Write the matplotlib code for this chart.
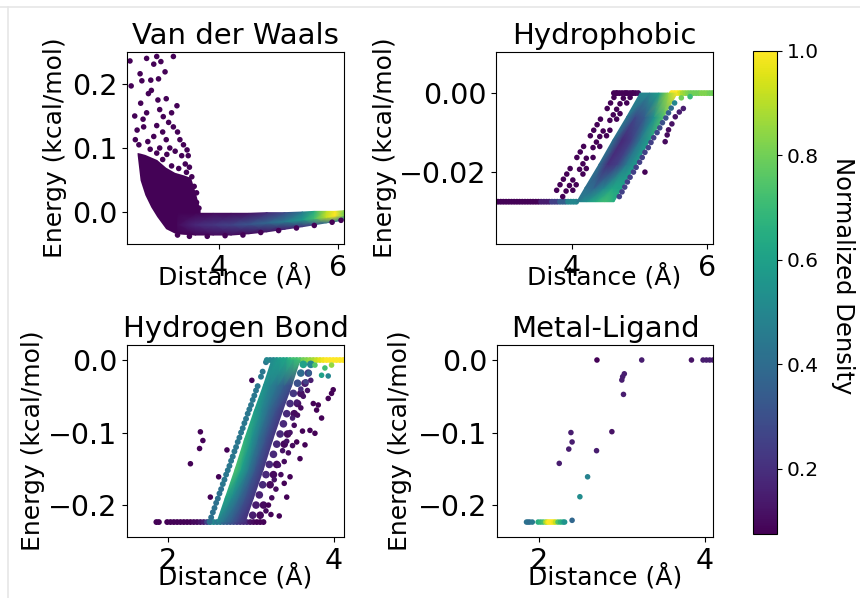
import numpy as np
import matplotlib
matplotlib.use('Agg')
import matplotlib.pyplot as plt
from matplotlib.lines import Line2D

# ---------------- data (distance in Angstrom, energy, normalized density) ----------------

# Van der Waals: sparse repulsive outliers and ragged bottom edge
vdw_sparse = [
    (2.50, 0.236), (2.52, 0.197), (2.58, 0.150), (2.67, 0.216), (2.78, 0.240), (2.90, 0.231),
    (2.95, 0.243), (3.09, 0.219), (3.23, 0.243), (2.85, 0.206), (2.86, 0.190), (2.97, 0.175),
    (3.11, 0.177), (3.29, 0.166), (2.78, 0.155), (3.06, 0.149), (2.62, 0.128), (2.73, 0.133),
    (2.90, 0.118), (3.23, 0.133), (3.34, 0.113), (3.11, 0.113), (2.59, 0.113), (3.46, 0.097),
    (3.37, 0.088), (3.48, 0.088), (3.54, 0.055), (2.95, 0.092), (2.70, 0.205), (2.98, 0.208),
    (3.02, 0.235), (2.81, 0.185), (3.00, 0.160), (3.15, 0.140), (3.20, 0.155), (2.68, 0.170),
    (2.72, 0.145), (2.95, 0.135), (3.05, 0.125), (3.30, 0.125), (3.40, 0.105), (2.65, 0.105),
    (2.80, 0.110), (3.17, 0.100), (3.26, 0.095), (3.43, 0.075), (3.50, 0.070), (3.58, 0.040),
    (3.62, 0.030), (2.84, 0.098), (3.00, 0.100), (3.12, 0.090), (3.05, 0.082), (3.20, 0.072),
    (3.32, 0.068), (3.45, 0.062), (3.62, 0.015), (3.66, 0.006),
    (3.30, -0.036), (3.50, -0.038), (3.80, -0.038), (4.10, -0.037), (4.40, -0.036), (4.70, -0.032),
    (5.00, -0.029), (5.30, -0.025), (5.60, -0.021), (5.90, -0.016), (6.05, -0.013),
]
vdw_sparse_density = 0.08

# Van der Waals: solid low-density fan under the repulsive wall
vdw_fan_x = [2.62, 2.67, 2.75, 2.85, 2.95, 3.10, 3.25, 3.40, 3.52, 3.60, 3.68]
vdw_fan_low = [0.090, 0.050, 0.027, 0.008, -0.007, -0.026, -0.033, -0.034, -0.034, -0.034, -0.030]
vdw_fan_high = [0.093, 0.092, 0.090, 0.086, 0.082, 0.070, 0.062, 0.058, 0.054, 0.030, 0.002]
vdw_fan_density = 0.08

# Van der Waals: attractive well band (bottom / core / top rows)
vdw_band_x = [3.30, 3.60, 3.90, 4.20, 4.50, 4.80, 5.10, 5.40, 5.60, 5.80, 5.95, 6.10]
vdw_band_y = [
    [-0.034, -0.036, -0.036, -0.036, -0.034, -0.031, -0.027, -0.023, -0.020, -0.017, -0.015, -0.012],
    [-0.020, -0.020, -0.020, -0.020, -0.019, -0.017, -0.015, -0.012, -0.010, -0.008, -0.006, -0.005],
    [-0.002, -0.002, -0.002, -0.002, -0.002, -0.001, -0.001, 0.000, 0.001, 0.001, 0.001, 0.002],
]
vdw_band_c = [
    [0.08, 0.08, 0.10, 0.10, 0.10, 0.12, 0.15, 0.20, 0.30, 0.40, 0.45, 0.40],
    [0.10, 0.18, 0.22, 0.26, 0.32, 0.38, 0.46, 0.58, 0.72, 0.92, 1.00, 0.80],
    [0.08, 0.08, 0.10, 0.10, 0.12, 0.18, 0.28, 0.45, 0.65, 0.90, 1.00, 0.80],
]

# Hydrophobic: flat floor and zero line (x, y, density)
hyd_lines = [
    (2.90, -0.0275, 0.08), (2.94, -0.0275, 0.08), (2.98, -0.0275, 0.08), (3.02, -0.0275, 0.08), (3.06, -0.0275, 0.08),
    (3.10, -0.0275, 0.08), (3.14, -0.0275, 0.08), (3.18, -0.0275, 0.08), (3.22, -0.0275, 0.08), (3.26, -0.0275, 0.08),
    (3.30, -0.0275, 0.08), (3.34, -0.0275, 0.08), (3.38, -0.0275, 0.08), (3.42, -0.0275, 0.08), (3.46, -0.0275, 0.08),
    (3.50, -0.0275, 0.08), (3.54, -0.0275, 0.15), (3.58, -0.0275, 0.15), (3.62, -0.0275, 0.15), (3.66, -0.0275, 0.15),
    (3.70, -0.0275, 0.25), (3.74, -0.0275, 0.25), (3.78, -0.0275, 0.25), (3.82, -0.0275, 0.35), (3.86, -0.0275, 0.35),
    (3.90, -0.0275, 0.35), (3.94, -0.0275, 0.50), (3.98, -0.0275, 0.50), (4.02, -0.0275, 0.50), (4.06, -0.0275, 0.50),
    (4.62, 0.0, 0.08), (4.66, 0.0, 0.08), (4.70, 0.0, 0.08), (4.74, 0.0, 0.08), (4.78, 0.0, 0.08), (4.82, 0.0, 0.08),
    (4.86, 0.0, 0.08), (4.90, 0.0, 0.08), (4.94, 0.0, 0.08), (4.98, 0.0, 0.10),
    (5.48, 0.0, 1.00), (5.52, 0.0, 1.00), (5.56, 0.0, 1.00), (5.60, 0.0, 0.95), (5.64, 0.0, 0.88), (5.68, 0.0, 0.85),
    (5.72, 0.0, 0.82), (5.76, 0.0, 0.80), (5.80, 0.0, 0.80), (5.84, 0.0, 0.80), (5.88, 0.0, 0.80), (5.92, 0.0, 0.82),
    (5.96, 0.0, 0.82), (6.00, 0.0, 0.82), (6.04, 0.0, 0.80), (6.08, 0.0, 0.80),
]

# Hydrophobic: purple streaks left of the band
hyd_left = [
    (3.77, -0.0246), (3.82, -0.0232), (3.87, -0.0218), (3.92, -0.0205), (3.97, -0.0191), (4.07, -0.0163),
    (4.12, -0.0149), (4.17, -0.0135), (4.27, -0.0108), (4.32, -0.0094), (4.37, -0.0080), (4.42, -0.0066),
    (4.52, -0.0039), (4.57, -0.0025), (4.62, -0.0011), (4.66, 0.0),
    (3.86, -0.0262), (3.91, -0.0248), (3.96, -0.0234), (4.01, -0.0220), (4.11, -0.0193), (4.16, -0.0179),
    (4.21, -0.0165), (4.31, -0.0138), (4.36, -0.0124), (4.41, -0.0110), (4.46, -0.0096), (4.56, -0.0069),
    (4.61, -0.0055), (4.66, -0.0041), (4.71, -0.0027), (4.76, -0.0013), (4.80, 0.0),
    (4.01, -0.0246), (4.06, -0.0232), (4.16, -0.0205), (4.21, -0.0191), (4.31, -0.0163), (4.41, -0.0135),
    (4.51, -0.0108), (4.56, -0.0094), (4.66, -0.0066), (4.71, -0.0052), (4.81, -0.0025), (4.86, -0.0011), (4.90, 0.0),
]
hyd_left_density = 0.08

# Hydrophobic: dots right of the band (x, y, density)
hyd_right = [
    (4.70, -0.0262, 0.25), (4.74, -0.0250, 0.25), (4.78, -0.0238, 0.25), (4.82, -0.0225, 0.25), (4.86, -0.0213, 0.25),
    (4.91, -0.0200, 0.25), (4.95, -0.0188, 0.25), (5.00, -0.0175, 0.25), (5.04, -0.0163, 0.25), (5.08, -0.0150, 0.25),
    (5.13, -0.0138, 0.25), (5.17, -0.0125, 0.25), (5.21, -0.0113, 0.25), (5.26, -0.0100, 0.28), (5.30, -0.0088, 0.28),
    (5.34, -0.0075, 0.30), (5.39, -0.0063, 0.30), (5.43, -0.0050, 0.35), (5.47, -0.0038, 0.40), (5.52, -0.0025, 0.50),
    (5.08, -0.0200, 0.08), (5.38, -0.0123, 0.10), (5.41, -0.0106, 0.10), (5.43, -0.0093, 0.10), (5.48, -0.0078, 0.12),
    (5.53, -0.0060, 0.12), (5.59, -0.0048, 0.15), (5.65, -0.0039, 0.15), (5.75, -0.0009, 0.70), (5.62, -0.0012, 0.80),
]

# Hydrophobic: dense diagonal band, rows from floor to zero, columns from left edge to right edge
hyd_band_x = [
    [4.07, 4.21, 4.35, 4.48, 4.62],
    [4.19, 4.33, 4.47, 4.60, 4.74],
    [4.40, 4.53, 4.67, 4.81, 4.95],
    [4.60, 4.74, 4.88, 5.01, 5.15],
    [4.81, 4.94, 5.08, 5.22, 5.36],
    [5.01, 5.15, 5.29, 5.42, 5.56],
]
hyd_band_y = [-0.0275, -0.024, -0.018, -0.012, -0.006, 0.0]
hyd_band_c = [
    [0.45, 0.55, 0.65, 0.72, 0.65],
    [0.42, 0.38, 0.50, 0.62, 0.60],
    [0.42, 0.20, 0.25, 0.45, 0.58],
    [0.42, 0.18, 0.25, 0.45, 0.60],
    [0.45, 0.28, 0.35, 0.55, 0.75],
    [0.50, 0.50, 0.60, 0.85, 1.00],
]

# Hydrogen bond: floor, left diagonal line and zero line (x, y, density)
hb_lines = [
    (1.86, -0.2234, 0.08), (1.89, -0.2234, 0.08), (1.99, -0.2234, 0.08), (2.03, -0.2234, 0.08), (2.07, -0.2234, 0.08),
    (2.11, -0.2234, 0.08), (2.15, -0.2234, 0.08), (2.19, -0.2234, 0.08), (2.23, -0.2234, 0.08), (2.27, -0.2234, 0.08),
    (2.31, -0.2234, 0.10), (2.35, -0.2234, 0.10), (2.39, -0.2234, 0.12), (2.43, -0.2234, 0.15), (2.47, -0.2234, 0.25),
    (2.51, -0.2234, 0.50), (2.55, -0.2234, 0.50), (2.59, -0.2234, 0.45), (2.63, -0.2234, 0.45), (2.67, -0.2234, 0.38),
    (2.71, -0.2234, 0.35), (2.75, -0.2234, 0.32), (2.79, -0.2234, 0.30), (2.83, -0.2234, 0.25), (2.87, -0.2234, 0.22),
    (2.91, -0.2234, 0.20), (2.95, -0.2234, 0.18), (2.99, -0.2234, 0.12), (3.03, -0.2234, 0.10), (3.07, -0.2234, 0.08),
    (3.11, -0.2234, 0.08), (3.15, -0.2234, 0.08),
    (2.50, -0.223, 0.42), (2.52, -0.217, 0.42), (2.54, -0.210, 0.42), (2.56, -0.204, 0.42), (2.58, -0.197, 0.42),
    (2.60, -0.191, 0.42), (2.62, -0.184, 0.42), (2.64, -0.178, 0.42), (2.66, -0.171, 0.44), (2.68, -0.165, 0.44),
    (2.70, -0.158, 0.44), (2.72, -0.152, 0.44), (2.74, -0.146, 0.44), (2.76, -0.139, 0.44), (2.78, -0.133, 0.44),
    (2.80, -0.126, 0.44), (2.82, -0.120, 0.44), (2.84, -0.113, 0.44), (2.86, -0.107, 0.44), (2.88, -0.100, 0.44),
    (2.90, -0.094, 0.44), (2.92, -0.087, 0.44), (2.94, -0.081, 0.44), (2.96, -0.074, 0.44), (2.98, -0.068, 0.44),
    (3.00, -0.062, 0.44), (3.02, -0.055, 0.44), (3.04, -0.049, 0.44), (3.06, -0.042, 0.44), (3.08, -0.036, 0.44),
    (3.12, -0.023, 0.44), (3.14, -0.016, 0.44), (3.18, -0.003, 0.44),
    (3.19, 0.0, 0.50), (3.23, 0.0, 0.50), (3.27, 0.0, 0.50), (3.31, 0.0, 0.55), (3.35, 0.0, 0.60), (3.39, 0.0, 0.60),
    (3.43, 0.0, 0.62), (3.47, 0.0, 0.68), (3.51, 0.0, 0.72), (3.55, 0.0, 0.72), (3.59, 0.0, 0.75), (3.63, 0.0, 0.80),
    (3.67, 0.0, 0.82), (3.71, 0.0, 0.85), (3.75, 0.0, 0.88), (3.79, 0.0, 0.92), (3.83, 0.0, 0.95), (3.87, 0.0, 0.98),
    (3.91, 0.0, 1.00), (3.95, 0.0, 1.00), (3.99, 0.0, 1.00), (4.03, 0.0, 1.00), (4.07, 0.0, 1.00), (4.11, 0.0, 1.00),
]

# Hydrogen bond: solid part of the dense region next to the line
hb_band_x = [
    [2.59, 2.67, 2.76, 2.84, 2.93],
    [2.69, 2.77, 2.86, 2.94, 3.03],
    [2.81, 2.89, 2.98, 3.06, 3.15],
    [2.92, 3.01, 3.09, 3.18, 3.26],
    [3.04, 3.13, 3.21, 3.30, 3.38],
    [3.15, 3.23, 3.32, 3.40, 3.49],
    [3.25, 3.34, 3.42, 3.51, 3.59],
]
hb_band_y = [-0.2234, -0.19, -0.15, -0.11, -0.07, -0.035, 0.0]
hb_band_c = [
    [0.50, 0.42, 0.34, 0.26, 0.20],
    [0.62, 0.52, 0.40, 0.30, 0.22],
    [0.74, 0.60, 0.45, 0.32, 0.22],
    [0.68, 0.55, 0.42, 0.30, 0.22],
    [0.60, 0.50, 0.40, 0.30, 0.22],
    [0.55, 0.48, 0.42, 0.35, 0.28],
    [0.52, 0.58, 0.62, 0.68, 0.72],
]

# Hydrogen bond: gappy outer part of the dense region (x, y, density)
hb_outer = [
    (3.02, -0.214, 0.15), (3.11, -0.214, 0.10), (3.06, -0.200, 0.15), (3.15, -0.200, 0.10),
    (3.10, -0.186, 0.16), (3.14, -0.172, 0.18), (3.23, -0.172, 0.10), (3.18, -0.158, 0.18),
    (3.27, -0.158, 0.10), (3.22, -0.144, 0.18), (3.31, -0.144, 0.10), (3.27, -0.130, 0.18),
    (3.31, -0.116, 0.18), (3.40, -0.116, 0.10), (3.35, -0.102, 0.18), (3.44, -0.102, 0.10),
    (3.39, -0.088, 0.18), (3.43, -0.074, 0.18), (3.52, -0.074, 0.10), (3.47, -0.060, 0.20),
    (3.56, -0.060, 0.12), (3.51, -0.046, 0.22), (3.60, -0.046, 0.12), (3.56, -0.032, 0.30),
    (3.65, -0.032, 0.15), (3.60, -0.018, 0.40), (3.69, -0.018, 0.25), (3.63, -0.006, 0.60),
    (3.72, -0.006, 0.50),
]

# Hydrogen bond: scattered points (x, y, density)
hb_sparse = [
    (2.39, -0.099, 0.08), (2.42, -0.111, 0.08), (2.38, -0.122, 0.08), (2.27, -0.143, 0.08), (2.71, -0.124, 0.08),
    (2.61, -0.161, 0.08), (2.51, -0.189, 0.08), (3.01, -0.028, 0.08),
    (3.43, -0.189, 0.08), (3.21, -0.200, 0.08), (3.24, -0.213, 0.08), (3.34, -0.215, 0.08), (3.47, -0.161, 0.08),
    (3.59, -0.136, 0.08), (3.55, -0.113, 0.08), (3.65, -0.117, 0.08), (3.71, -0.097, 0.08), (3.77, -0.101, 0.08),
    (3.85, -0.080, 0.08), (3.79, -0.069, 0.08), (3.81, -0.062, 0.08), (3.75, -0.060, 0.08), (3.93, -0.053, 0.08),
    (3.99, -0.041, 0.08), (3.97, -0.046, 0.08),
    (3.25, -0.190, 0.10), (3.30, -0.178, 0.10), (3.28, -0.165, 0.12), (3.36, -0.158, 0.10), (3.33, -0.145, 0.12),
    (3.40, -0.140, 0.10), (3.38, -0.125, 0.12), (3.45, -0.128, 0.10), (3.43, -0.112, 0.12), (3.50, -0.118, 0.10),
    (3.47, -0.100, 0.12), (3.52, -0.090, 0.10), (3.50, -0.080, 0.15), (3.56, -0.076, 0.10), (3.60, -0.066, 0.10),
    (3.55, -0.058, 0.15), (3.63, -0.050, 0.12), (3.60, -0.040, 0.20), (3.68, -0.042, 0.12), (3.66, -0.030, 0.25),
    (3.72, -0.028, 0.15), (3.70, -0.018, 0.35), (3.62, -0.098, 0.08), (3.40, -0.170, 0.08), (3.18, -0.208, 0.10),
    (3.77, -0.007, 0.75), (3.85, -0.021, 0.60), (3.89, -0.011, 0.72), (3.93, -0.022, 0.50), (3.97, -0.007, 0.85),
]

# Metal-ligand: all points (x, y, density)
ml_points = [
    (1.85, -0.2234, 0.42), (1.87, -0.2234, 0.42), (1.89, -0.2234, 0.40), (1.92, -0.2234, 0.45),
    (1.99, -0.2234, 0.65), (2.02, -0.2234, 0.68), (2.05, -0.2234, 0.72), (2.08, -0.2234, 0.85),
    (2.10, -0.2234, 0.95), (2.12, -0.2234, 1.00), (2.14, -0.2234, 1.00), (2.16, -0.2234, 1.00),
    (2.18, -0.2234, 0.98), (2.20, -0.2234, 0.92), (2.23, -0.2234, 0.75), (2.26, -0.2234, 0.68),
    (2.29, -0.2234, 0.62), (2.31, -0.2234, 0.55), (2.40, -0.221, 0.38),
    (2.245, -0.1425, 0.15), (2.36, -0.1228, 0.15), (2.386, -0.100, 0.15), (2.40, -0.113, 0.15),
    (2.494, -0.1885, 0.52), (2.587, -0.161, 0.48), (2.695, -0.125, 0.15), (2.70, 0.0, 0.08),
    (2.88, -0.0988, 0.12), (3.00, -0.0276, 0.15), (3.01, -0.0230, 0.15), (3.03, -0.0190, 0.15),
    (3.02, -0.0474, 0.15), (3.24, 0.0, 0.15), (3.84, 0.0, 0.12), (3.98, 0.0, 0.15),
    (4.02, 0.0, 0.15), (4.06, 0.0, 0.15), (4.10, 0.0, 0.15),
]

titles = ['Van der Waals', 'Hydrophobic', 'Hydrogen Bond', 'Metal-Ligand']

# ---------------- figure ----------------
cmap = plt.cm.viridis
norm = plt.Normalize(0.075, 1.0)

fig = plt.figure(figsize=(8.6, 5.98), dpi=100)
W, H = 860.0, 598.0


def make_axes(l, t, r, b):
    return fig.add_axes([l / W, 1 - b / H, (r - l) / W, (b - t) / H])


def draw(ax, pts, size, dens=None):
    p = np.array(pts, dtype=float)
    c = p[:, 2] if dens is None else np.full(len(p), dens)
    ax.scatter(p[:, 0], p[:, 1], c=c, cmap=cmap, norm=norm, s=size, linewidths=0)


def dense(ax, xs, ys, cs):
    # densely packed points drawn as a smoothly shaded patch
    C = np.array(cs, dtype=float)
    X = np.array(xs, dtype=float)
    Y = np.array(ys, dtype=float)
    if X.ndim == 1:
        X = np.tile(X, (C.shape[0], 1))
    if Y.ndim == 1:
        Y = np.repeat(Y[:, None], C.shape[1], axis=1)
    ax.pcolormesh(X, Y, C, shading='gouraud', cmap=cmap, norm=norm,
                  antialiased=False, edgecolors='none')


ax1 = make_axes(127, 52, 344, 244)
ax2 = make_axes(496, 52, 713, 244)
ax3 = make_axes(127, 345, 344, 537)
ax4 = make_axes(497, 345, 713, 537)

ax1.fill_between(vdw_fan_x, vdw_fan_low, vdw_fan_high, color=cmap(norm(vdw_fan_density)), lw=0)
dense(ax1, vdw_band_x, vdw_band_y, vdw_band_c)
draw(ax1, vdw_sparse, 16, vdw_sparse_density)

draw(ax2, hyd_lines, 18)
draw(ax2, hyd_left, 16, hyd_left_density)
dense(ax2, hyd_band_x, hyd_band_y, hyd_band_c)
draw(ax2, hyd_right, 16)

draw(ax3, hb_lines, 18)
dense(ax3, hb_band_x, hb_band_y, hb_band_c)
draw(ax3, hb_outer, 30)
draw(ax3, hb_sparse, 16)

draw(ax4, ml_points, 16)

ax1.set_xlim(2.45, 6.1)
ax1.set_ylim(-0.05, 0.25)
ax1.set_xticks([4, 6])
ax1.set_yticks([0.0, 0.1, 0.2])

ax2.set_xlim(2.87, 6.09)
ax2.set_ylim(-0.0382, 0.0104)
ax2.set_xticks([4, 6])
ax2.set_yticks([-0.02, 0.0], ['\u22120.02', '0.00'])

ax3.set_xlim(1.506, 4.12)
ax3.set_ylim(-0.244, 0.0207)
ax3.set_xticks([2, 4])
ax3.set_yticks([-0.2, -0.1, 0.0])

ax4.set_xlim(1.494, 4.1)
ax4.set_ylim(-0.244, 0.0207)
ax4.set_xticks([2, 4])
ax4.set_yticks([-0.2, -0.1, 0.0])

xlab_y = [-0.099, -0.099, -0.135, -0.135]
ylab_x = [-0.276, -0.456, -0.378, -0.392]
for ax, t, xy, yx in zip([ax1, ax2, ax3, ax4], titles, xlab_y, ylab_x):
    ax.set_title(t, fontsize=21)
    ax.set_xlabel('Distance (\u00c5)', fontsize=18)
    ax.set_ylabel('Energy (kcal/mol)', fontsize=18)
    ax.xaxis.set_label_coords(0.5, xy)
    ax.yaxis.set_label_coords(yx, 0.5)
    ax.tick_params(labelsize=20.5)

cax = make_axes(753, 51, 777, 534)
sm = plt.cm.ScalarMappable(norm=norm, cmap=cmap)
cb = fig.colorbar(sm, cax=cax)
cb.set_ticks([0.2, 0.4, 0.6, 0.8, 1.0])
cb.ax.tick_params(labelsize=14.5)
fig.text(843 / W, 1 - 276 / H, 'Normalized Density', rotation=270, fontsize=17.5,
         ha='center', va='center')

# light frame of the screenshot
fig.add_artist(Line2D([0, 1], [1 - 7 / H, 1 - 7 / H], transform=fig.transFigure, color='#e6e6e6', lw=1.2))
fig.add_artist(Line2D([8 / W, 8 / W], [0, 1 - 7 / H], transform=fig.transFigure, color='#e6e6e6', lw=1.2))

fig.savefig('out.png', dpi=100)
